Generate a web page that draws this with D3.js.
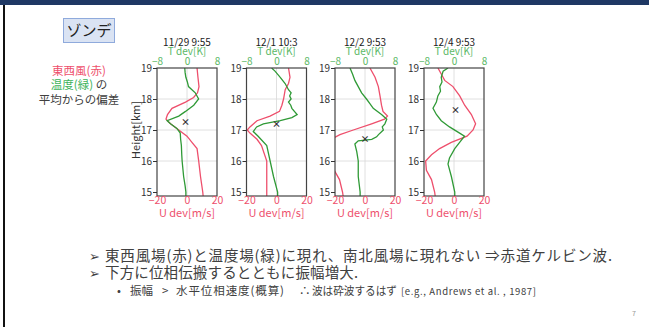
<!DOCTYPE html>
<html>
<head>
<meta charset="utf-8">
<script src="https://cdn.jsdelivr.net/npm/d3@7"></script>
<style>
  body { margin: 0; background: #fff; }
  svg text { font-family: "Noto Sans CJK JP", "Noto Sans", sans-serif; }
</style>
</head>
<body>
<script>
// panel titles (sonde launch time)
var titles = ["11/29 9:55", "12/1 10:3", "12/2 9:53", "12/4 9:53"];

// height ticks [km], U ticks [m/s], T ticks [K]
var heightTicks = [15, 16, 17, 18, 19];
var uTicks = [-20, 0, 20];
var tTicks = [-8, 0, 8];

// zonal wind deviation [m/s] profiles: [height, value]
var uDev = [
  [[19, 6.7], [18.7, 7.3], [18.4, 8], [18.2, 7], [18.05, 4.4], [17.9, -1], [17.7, -10], [17.5, -13], [17.35, -14], [17.2, -11], [17.0, -5.5], [16.8, 0], [16.6, 3.3], [16.4, 6.7], [16.0, 7.8], [15.5, 9], [15.0, 10.5], [14.85, 10.8]],
  [[19, 8], [18.7, 9], [18.5, 8], [18.3, 5.8], [18.0, 4.7], [17.8, 3.6], [17.6, 2], [17.45, -4.3], [17.3, -13], [17.1, -17.7], [17.0, -19.5], [16.9, -17.7], [16.7, -13], [16.5, -10], [16.0, -6.5], [15.5, -6.5], [15.0, -6.5], [14.85, -6.5]],
  [[19, 3.3], [18.7, 6.7], [18.4, 8.9], [18.1, 10], [17.8, 11], [17.6, 12], [17.45, 15], [17.35, 13], [17.2, 4.4], [17.0, -7.8], [16.85, -16.7], [16.75, -20.5], [16.5, -26], [16.0, -24], [15.7, -20.5], [15.4, -17], [15.0, -15], [14.85, -14.5]],
  [[19, -10.7], [18.8, -8.4], [18.6, -6.2], [18.4, -0.7], [18.1, 3.8], [17.8, 7.1], [17.5, 11.6], [17.2, 14.4], [17.0, 12.7], [16.8, 8.7], [16.6, -1.8], [16.4, -9.6], [16.2, -15], [16.0, -18.9], [15.7, -18.4], [15.4, -15], [15.0, -12.9], [14.85, -12.5]]
];

// temperature deviation [K] profiles: [height, value]
var tDev = [
  [[19, -0.6], [18.85, -0.5], [18.7, -0.3], [18.55, 0.1], [18.4, 0.4], [18.2, 2.2], [18.0, 3.1], [17.8, 1.8], [17.6, -0.4], [17.45, -2.2], [17.3, -5.3], [17.2, -4.4], [17.05, -2.7], [16.9, -1.8], [16.7, -1.7], [16.5, -1.5], [16.2, -1.4], [16.0, -1.3], [15.75, -1.1], [15.5, -0.9], [15.2, -0.5], [15.0, -0.3], [14.85, -0.3]],
  [[19, -1.3], [18.9, -0.4], [18.7, 1], [18.5, 2.3], [18.3, 3.2], [18.2, 3.9], [18.1, 3.5], [18.0, 3.9], [17.9, 3.2], [17.8, 3.8], [17.7, 4.1], [17.5, 5.5], [17.4, 4.1], [17.3, 1], [17.2, -3.5], [17.1, -5.3], [16.95, -6.2], [16.8, -4.9], [16.5, -2.6], [16.0, -1.7], [15.5, -0.8], [15.0, 0.3], [14.85, 0.3]],
  [[19, -4], [18.8, -3.3], [18.6, -2.7], [18.4, -1.8], [18.2, -0.9], [18.0, 0.4], [17.85, 1.3], [17.7, 2.2], [17.5, 4.4], [17.35, 5.8], [17.2, 5.3], [17.1, 4.6], [17.0, 4.9], [16.85, 3.6], [16.78, 3.1], [16.7, 1.8], [16.65, -1.8], [16.55, -2.7], [16.3, -2.2], [16.0, -1.8], [15.5, -1.8], [15.0, -1.3], [14.85, -1.3]],
  [[19, -1.6], [18.9, -2.9], [18.7, -3.4], [18.55, -3.2], [18.4, -3.8], [18.25, -3.6], [18.1, -4.3], [17.9, -4.7], [17.7, -5.6], [17.5, -4.7], [17.3, -3.4], [17.1, -1.2], [16.9, 1.5], [16.8, 2.8], [16.6, 1.5], [16.4, 0.2], [16.1, -1.2], [15.9, -1.6], [15.5, -0.7], [15.0, 0.2], [14.85, 0.2]]
];

// "x" markers: [height, U value]
var markers = [[17.25, -1], [17.2, 0], [16.7, 0], [17.65, 1]];

var W = 649, H = 327;
var red = "#ee4f6c", green = "#2f9a36", ink = "#404040";

var svg = d3.select("body").append("svg")
  .attr("width", W).attr("height", H);

// slide decoration
svg.append("rect").attr("x", 0).attr("y", 0).attr("width", W).attr("height", 5).attr("fill", "#1f3864");
svg.append("rect").attr("x", 3).attr("y", 5).attr("width", 2).attr("height", H - 5).attr("fill", "#111");

// ゾンデ label box
svg.append("rect").attr("x", 63.5).attr("y", 18.5).attr("width", 51).attr("height", 24)
  .attr("fill", "#dae3f3").attr("stroke", "#8faadc");
svg.append("text").attr("x", 89).attr("y", 36).attr("text-anchor", "middle")
  .attr("font-size", 15).attr("fill", "#222").text("ゾンデ");

// left note
var note = svg.append("g").attr("font-size", 11.5).attr("text-anchor", "middle");
note.append("text").attr("x", 79).attr("y", 75).attr("fill", red).text("東西風(赤)");
var n2 = note.append("text").attr("x", 79).attr("y", 89);
n2.append("tspan").attr("fill", "#3cb35a").text("温度(緑)");
n2.append("tspan").attr("fill", ink).text(" の");
note.append("text").attr("x", 79).attr("y", 104).attr("fill", ink).text("平均からの偏差");

// panels
var panelX = [157, 246.5, 335, 424];
var pw = 60, boxTop = 68, boxBottom = 196;

var y = d3.scaleLinear().domain([15, 19]).range([192, 68]);
var xu = d3.scaleLinear().domain([-20, 20]).range([0, pw]);
var xt = d3.scaleLinear().domain([-8, 8]).range([0, pw]);

var defs = svg.append("defs");
defs.append("clipPath").attr("id", "clip")
  .append("rect").attr("x", 0).attr("y", boxTop).attr("width", pw).attr("height", boxBottom - boxTop);

var lab = "Liberation Sans, sans-serif";

titles.forEach(function (title, i) {
  var g = svg.append("g").attr("transform", "translate(" + panelX[i] + ",0)");

  // grid
  g.selectAll(".hg").data([16, 17, 18]).enter().append("line")
    .attr("x1", 0).attr("x2", pw)
    .attr("y1", function (d) { return y(d); }).attr("y2", function (d) { return y(d); })
    .attr("stroke", "#d8d8d8").attr("stroke-width", 0.8);
  g.append("line").attr("x1", xu(0)).attr("x2", xu(0)).attr("y1", boxTop).attr("y2", boxBottom)
    .attr("stroke", "#d8d8d8").attr("stroke-width", 0.8);

  var plot = g.append("g").attr("clip-path", "url(#clip)");
  plot.append("path").datum(uDev[i])
    .attr("d", d3.line().x(function (d) { return xu(d[1]); }).y(function (d) { return y(d[0]); }))
    .attr("fill", "none").attr("stroke", red).attr("stroke-width", 1.3);
  plot.append("path").datum(tDev[i])
    .attr("d", d3.line().x(function (d) { return xt(d[1]); }).y(function (d) { return y(d[0]); }))
    .attr("fill", "none").attr("stroke", green).attr("stroke-width", 1.3);

  // marker
  g.append("text").attr("x", xu(markers[i][1])).attr("y", y(markers[i][0]) + 3)
    .attr("text-anchor", "middle").attr("font-size", 9).attr("font-weight", "bold")
    .attr("fill", "#333").text("×");

  // frame
  g.append("rect").attr("x", 0).attr("y", boxTop).attr("width", pw).attr("height", boxBottom - boxTop)
    .attr("fill", "none").attr("stroke", "#444").attr("stroke-width", 1.2);

  // left axis
  var ya = g.append("g").call(d3.axisLeft(y).tickValues(heightTicks).tickFormat(d3.format("d")).tickSize(4).tickPadding(1));
  ya.select(".domain").remove();
  ya.selectAll("line").attr("stroke", "#333");
  ya.selectAll("text").attr("font-size", 10).attr("fill", "#333").attr("font-family", lab);

  // bottom U axis
  var ba = g.append("g").attr("transform", "translate(0," + boxBottom + ")")
    .call(d3.axisBottom(xu).tickValues(uTicks).tickFormat(d3.format("d")).tickSize(0).tickPadding(1));
  ba.select(".domain").remove();
  ba.selectAll("text").attr("font-size", 10.5).attr("fill", red).attr("font-family", lab);

  // top T axis
  var ta = g.append("g").attr("transform", "translate(0," + boxTop + ")")
    .call(d3.axisTop(xt).tickValues(tTicks).tickFormat(d3.format("d")).tickSize(0).tickPadding(3));
  ta.select(".domain").remove();
  ta.selectAll("text").attr("font-size", 10).attr("fill", "#5ab865").attr("font-family", lab);

  g.append("text").attr("x", pw / 2).attr("y", 55).attr("text-anchor", "middle")
    .attr("font-size", 10).attr("fill", "#5ab865").attr("font-family", lab)
    .text("T dev[K]");
  g.append("text").attr("x", pw / 2).attr("y", 45.5).attr("text-anchor", "middle")
    .attr("font-size", 10).attr("fill", "#222").attr("font-family", lab)
    .text(title);
  g.append("text").attr("x", pw / 2).attr("y", 217).attr("text-anchor", "middle")
    .attr("font-size", 11).attr("fill", red).attr("font-family", lab)
    .text("U dev[m/s]");
});

svg.append("text").attr("transform", "translate(140,130) rotate(-90)")
  .attr("text-anchor", "middle").attr("font-size", 11).attr("fill", "#333")
  .attr("font-family", lab).text("Height[km]");

// bullets
var b = svg.append("g").attr("fill", ink);
b.append("text").attr("x", 89).attr("y", 261).attr("font-size", 13).text("➢");
b.append("text").attr("x", 105).attr("y", 261).attr("font-size", 14.5)
  .attr("textLength", 507).attr("lengthAdjust", "spacing")
  .text("東西風場(赤)と温度場(緑)に現れ、南北風場に現れない ⇒赤道ケルビン波.");
b.append("text").attr("x", 89).attr("y", 278).attr("font-size", 13).text("➢");
b.append("text").attr("x", 105).attr("y", 278).attr("font-size", 14.5)
  .attr("textLength", 253).attr("lengthAdjust", "spacing")
  .text("下方に位相伝搬するとともに振幅増大.");
var l3 = b.append("g").attr("font-size", 11.5);
l3.append("text").attr("x", 117).attr("y", 295).text("•");
l3.append("text").attr("x", 130).attr("y", 295).text("振幅");
l3.append("text").attr("x", 162).attr("y", 295).text(">");
l3.append("text").attr("x", 176).attr("y", 295).attr("textLength", 108).attr("lengthAdjust", "spacing")
  .text("水平位相速度(概算)");
l3.append("text").attr("x", 299).attr("y", 295).text("∴");
l3.append("text").attr("x", 312).attr("y", 295).attr("textLength", 85).attr("lengthAdjust", "spacingAndGlyphs")
  .text("波は砕波するはず");
b.append("text").attr("x", 401).attr("y", 295).attr("font-size", 9.5)
  .attr("textLength", 135).attr("lengthAdjust", "spacing")
  .text("[e.g., Andrews et al. , 1987]");

svg.append("text").attr("x", 632).attr("y", 316).attr("font-size", 7).attr("fill", "#999").text("7");
</script>
</body>
</html>
